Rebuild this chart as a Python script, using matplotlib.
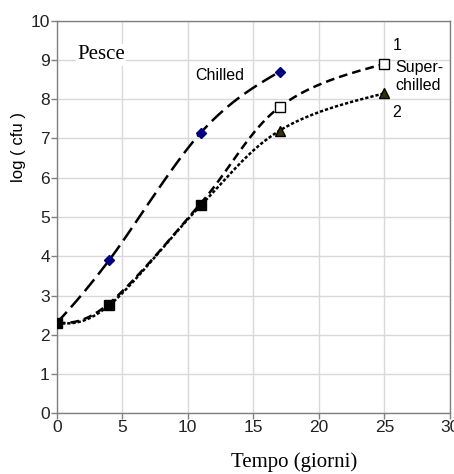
import numpy as np
import matplotlib
matplotlib.use("Agg")
import matplotlib.pyplot as plt

days_chilled = [0, 4, 11, 17]
cfu_chilled = [2.3, 3.9, 7.15, 8.7]
days_super = [0, 4, 11, 17, 25]
cfu_super1 = [2.3, 2.8, 5.35, 7.8, 8.9]
cfu_super2 = [2.3, 2.75, 5.3, 7.2, 8.15]
markers_super2 = ['s', 's', 's', '^', '^']

x_ticks = [0, 5, 10, 15, 20, 25, 30]
y_ticks = list(range(0, 11))


def smooth(xs, ys, n=40):
    P = np.column_stack([xs, ys]).astype(float)
    m = len(P)
    out = []
    for i in range(m - 1):
        p0 = P[i - 1] if i > 0 else None
        p1 = P[i]
        p2 = P[i + 1]
        p3 = P[i + 2] if i + 2 < m else None
        c1 = p1 + (p2 - p0) / 6 if p0 is not None else None
        c2 = p2 - (p3 - p1) / 6 if p3 is not None else None
        if c1 is None and c2 is None:
            c1 = p1 + (p2 - p1) / 3
            c2 = p2 - (p2 - p1) / 3
        elif c1 is None:
            c1 = p1 + (c2 - p1) / 2
        elif c2 is None:
            c2 = p2 + (c1 - p2) / 2
        t = np.linspace(0, 1, n)[:, None]
        seg = ((1 - t) ** 3) * p1 + 3 * ((1 - t) ** 2) * t * c1 + 3 * (1 - t) * t ** 2 * c2 + t ** 3 * p2
        out.append(seg if i == 0 else seg[1:])
    s = np.vstack(out)
    return s[:, 0], s[:, 1]


fig = plt.figure(figsize=(4.54, 4.74), dpi=100)
ax = fig.add_axes([56.7 / 454, 1 - 413.3 / 474, (450 - 56.7) / 454, (413.3 - 20.7) / 474])

sans = 'Liberation Sans'
serif = 'Liberation Serif'

xs, ys = smooth(days_chilled, cfu_chilled)
ax.plot(xs, ys, color='black', lw=1.8, dashes=(6, 2.5), zorder=3)
ax.plot(days_chilled, cfu_chilled, ls='none', marker='D', ms=5, color='#000080', zorder=4)

xs, ys = smooth(days_super, cfu_super1)
ax.plot(xs, ys, color='black', lw=1.8, dashes=(3.5, 2), zorder=3)

xs, ys = smooth(days_super, cfu_super2)
ax.plot(xs, ys, color='black', lw=1.8, dashes=(1.3, 0.8), zorder=3)

for x, y, mk in zip(days_super, cfu_super2, markers_super2):
    ax.plot([x], [y], ls='none', marker=mk, ms=7 if mk == 's' else 7.5,
            color='black' if mk == 's' else '#333300', mec='black', zorder=5)

ax.plot(days_super[3:], cfu_super1[3:], ls='none', marker='s', ms=7, mfc='white',
        mec='black', mew=1.0, zorder=6)

ax.set_xlim(0, 30)
ax.set_ylim(0, 10)
ax.set_xticks(x_ticks)
ax.set_yticks(y_ticks)
ax.grid(True, color='#d9d9d9', lw=1)
ax.set_axisbelow(True)
for sp in ax.spines.values():
    sp.set_color('#808080')
    sp.set_linewidth(1)
ax.tick_params(direction='out', length=4, width=1, color='#808080', labelsize=12.5,
               labelcolor='#222222', pad=1)
for lab in ax.get_xticklabels() + ax.get_yticklabels():
    lab.set_fontfamily(sans)

ax.text(1.55, 9.13, 'Pesce', family=serif, fontsize=15, va='center', ha='left',
        bbox=dict(facecolor='white', edgecolor='none', pad=1), zorder=2)
ax.text(10.6, 8.6, 'Chilled', family=sans, fontsize=11.5, va='center', ha='left', zorder=2)
ax.text(25.6, 9.38, '1', family=sans, fontsize=11.5, va='center', ha='left')
ax.text(25.8, 8.58, 'Super-\nchilled', family=sans, fontsize=11.5, va='center', ha='left',
        linespacing=1.25)
ax.text(25.6, 7.65, '2', family=sans, fontsize=11.5, va='center', ha='left')

fig.text(18 / 454, 1 - 147 / 474, 'log ( cfu )', family=sans, fontsize=12, rotation=90,
         ha='center', va='center')
fig.text(294 / 454, 1 - 462 / 474, 'Tempo (giorni)', family=serif, fontsize=15,
         ha='center', va='center')

fig.savefig('out.png', dpi=100)
